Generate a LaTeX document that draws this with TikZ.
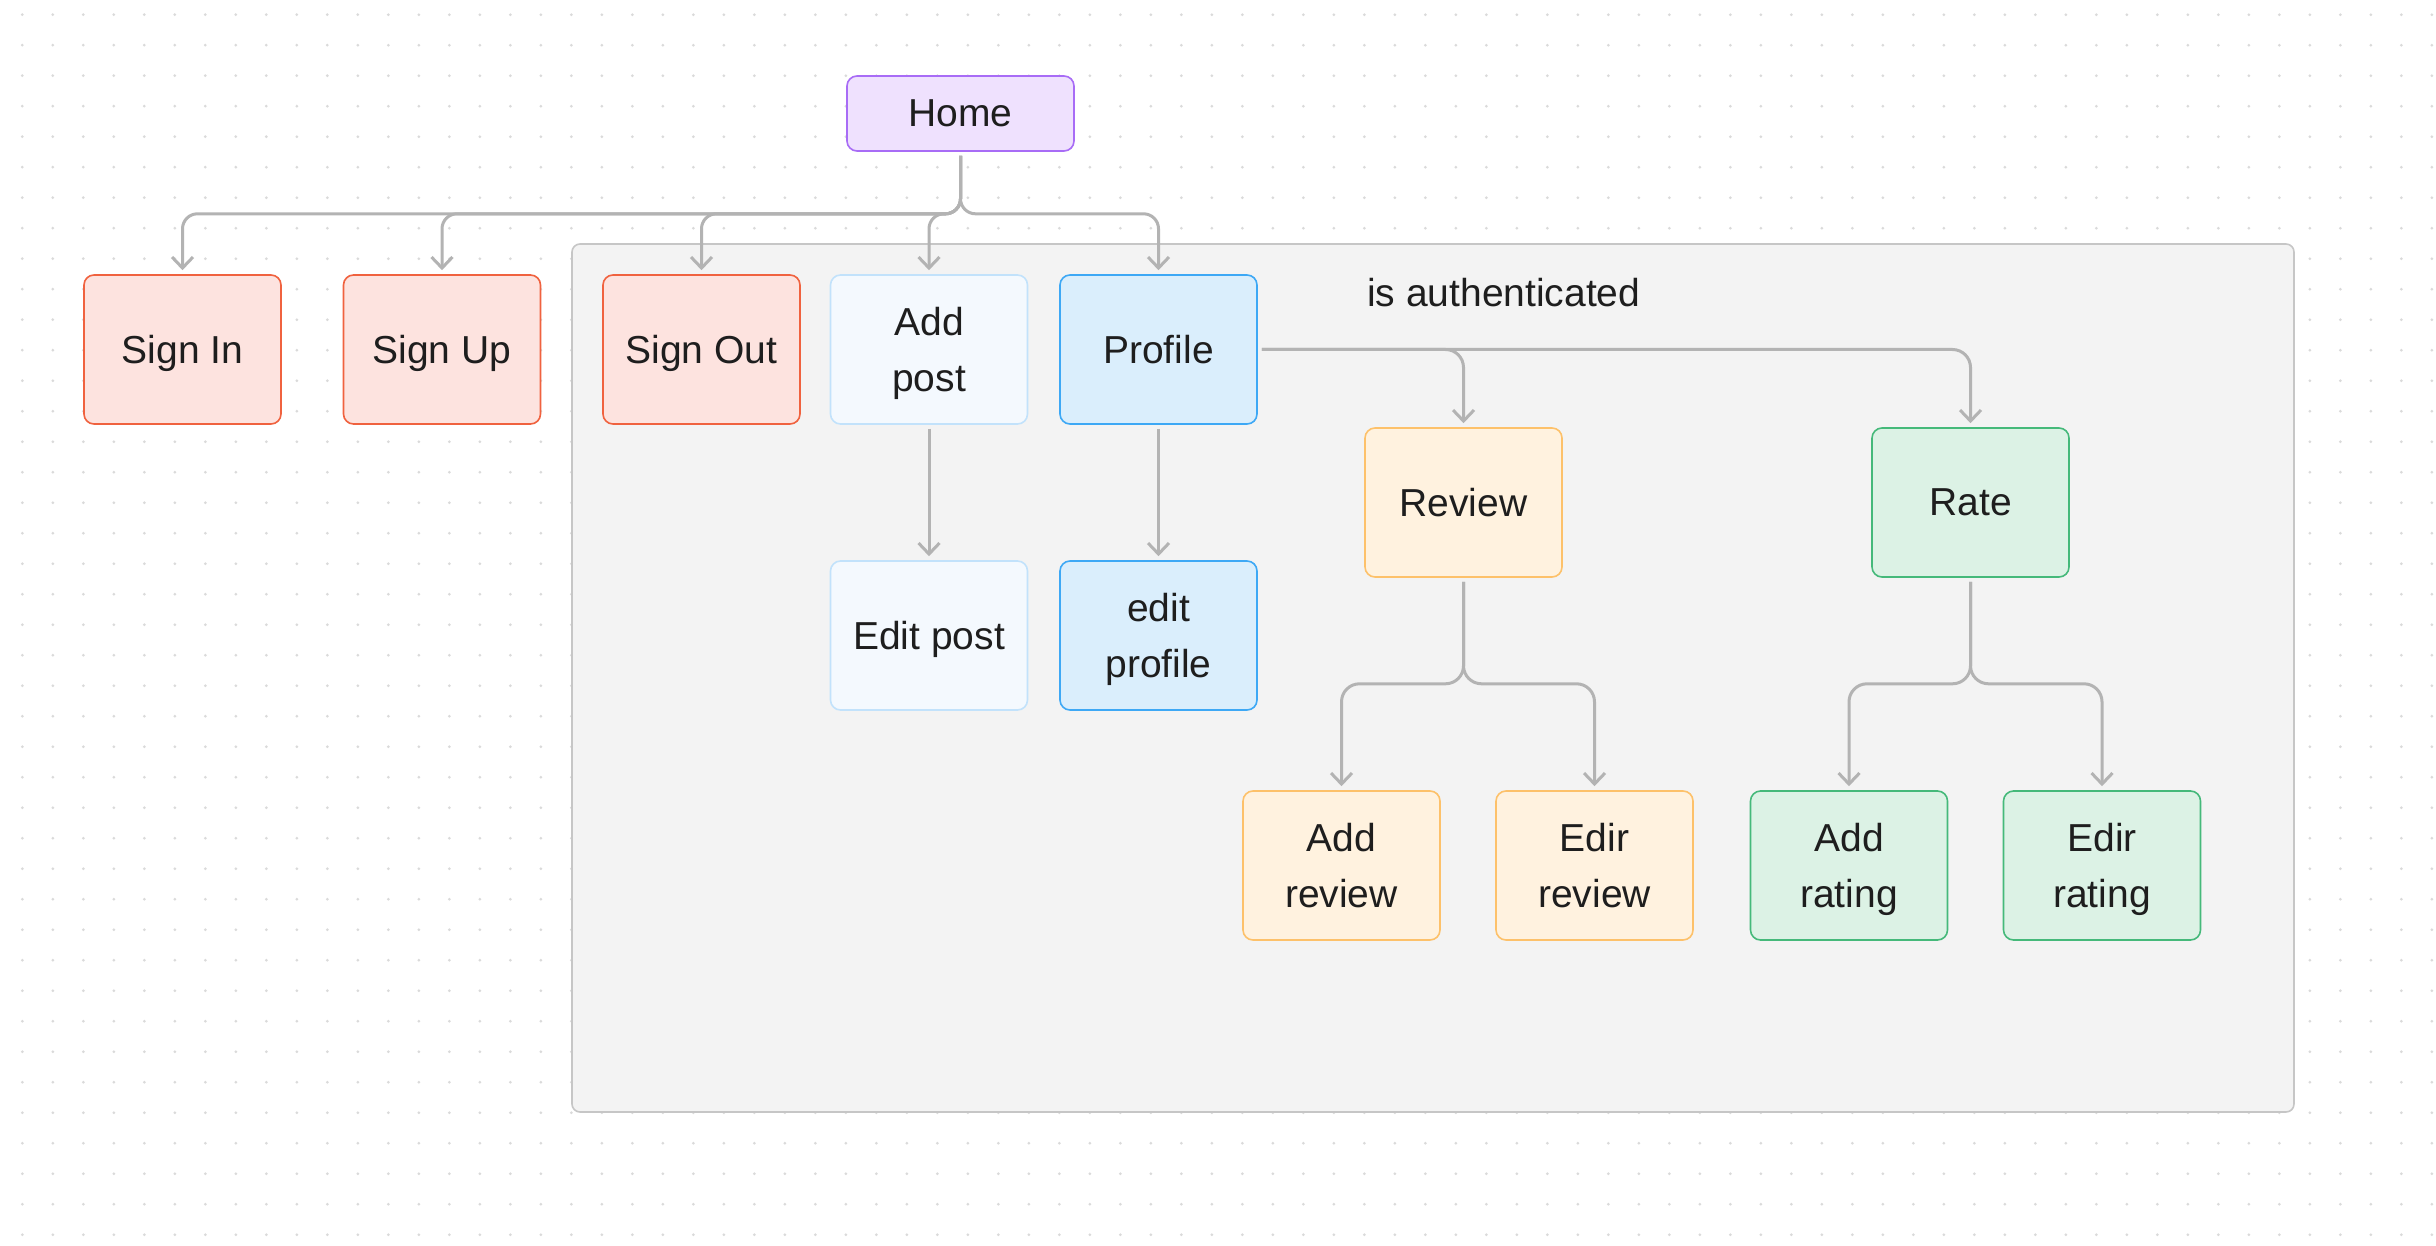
\documentclass[tikz,border=0pt]{standalone}
\usepackage{fontspec}
\setmainfont{Liberation Sans}
\usetikzlibrary{arrows.meta}
\definecolor{txt}{HTML}{1E1E1E}
\definecolor{dotc}{HTML}{DADADA}
\definecolor{linec}{HTML}{B3B3B3}
\definecolor{grpfill}{HTML}{F3F3F3}
\definecolor{grpdraw}{HTML}{C6C6C6}
\definecolor{homefill}{HTML}{EFE1FE}
\definecolor{homedraw}{HTML}{A86CF6}
\definecolor{redfill}{HTML}{FDE3DF}
\definecolor{reddraw}{HTML}{F0623F}
\definecolor{pbluefill}{HTML}{F4F9FE}
\definecolor{pbluedraw}{HTML}{C2E2FB}
\definecolor{bluefill}{HTML}{DAEEFC}
\definecolor{bluedraw}{HTML}{3DA8F5}
\definecolor{orfill}{HTML}{FFF2DF}
\definecolor{ordraw}{HTML}{FDC16A}
\definecolor{grfill}{HTML}{DCF2E5}
\definecolor{grdraw}{HTML}{45B97A}
\tikzset{
  box/.style={rounded corners=10pt, minimum width=197pt, minimum height=149pt,
    inner sep=0pt, align=center, font=\fontsize{39}{56}\selectfont, text=txt,
    text depth=0pt, line width=1.6pt},
  homebox/.style={box, minimum width=227pt, minimum height=75pt, fill=homefill, draw=homedraw},
  redbox/.style={box, fill=redfill, draw=reddraw},
  pbluebox/.style={box, fill=pbluefill, draw=pbluedraw},
  bluebox/.style={box, fill=bluefill, draw=bluedraw},
  orbox/.style={box, fill=orfill, draw=ordraw},
  grbox/.style={box, fill=grfill, draw=grdraw},
  conn/.style={draw=linec, line width=3pt, line join=round,
    -{Straight Barb[length=11pt,width=21pt,line width=3pt]},
    shorten <=4pt, shorten >=4pt},
  grp/.style={rounded corners=8pt, fill=grpfill, draw=grpdraw, line width=1.6pt,
    minimum width=1722pt, minimum height=868pt, inner sep=0pt}
}
\begin{document}
\begin{tikzpicture}[x=1pt,y=-1pt]
\fill[white] (0,0) rectangle (2436,1246);
\useasboundingbox (0,0) rectangle (2436,1246);
\foreach \i in {0,...,79}{
  \foreach \j in {0,...,40}{
    \fill[dotc] ({22.3+30.5*\i},{14.7+30.5*\j}) circle (1.5);
  }
}
\node[grp] (grp) at (1433,678) {};
\node[anchor=base west, inner sep=0pt, font=\fontsize{39}{56}\selectfont, text=txt] (authlbl) at (1367,307) {is authenticated};

\node[homebox] (home) at (960.5,113.5) {Home};
\node[redbox] (signin) at (182.5,349.5) {Sign In};
\node[redbox] (signup) at (442,349.5) {Sign Up};
\node[redbox] (signout) at (701.5,349.5) {Sign Out};
\node[pbluebox] (addpost) at (929,349.5) {Add\\post};
\node[bluebox] (profile) at (1158.5,349.5) {Profile};
\node[pbluebox] (editpost) at (929,635.5) {Edit post};
\node[bluebox] (editprofile) at (1158.5,635.5) {edit\\profile};
\node[orbox] (review) at (1463.5,502.5) {Review};
\node[grbox] (rate) at (1970.5,502.5) {Rate};
\node[orbox] (addreview) at (1341.5,865.5) {Add\\review};
\node[orbox] (edirreview) at (1594.5,865.5) {Edir\\review};
\node[grbox] (addrating) at (1849,865.5) {Add\\rating};
\node[grbox] (edirrating) at (2102,865.5) {Edir\\rating};

\begin{scope}[rounded corners=15pt]
\draw[conn] (home.south) -- ++(0,62) -| (signin.north);
\draw[conn] (home.south) -- ++(0,62) -| (signup.north);
\draw[conn] (home.south) -- ++(0,62) -| (signout.north);
\draw[conn] (home.south) -- ++(0,62) -| (addpost.north);
\draw[conn] (home.south) -- ++(0,62) -| (profile.north);
\end{scope}
\begin{scope}[rounded corners=18pt]
\draw[conn] (profile.east) -| (review.north);
\draw[conn] (profile.east) -| (rate.north);
\draw[conn] (review.south) -- ++(0,106) -| (addreview.north);
\draw[conn] (review.south) -- ++(0,106) -| (edirreview.north);
\draw[conn] (rate.south) -- ++(0,106) -| (addrating.north);
\draw[conn] (rate.south) -- ++(0,106) -| (edirrating.north);
\end{scope}
\draw[conn] (addpost.south) -- (editpost.north);
\draw[conn] (profile.south) -- (editprofile.north);
\end{tikzpicture}
\end{document}
